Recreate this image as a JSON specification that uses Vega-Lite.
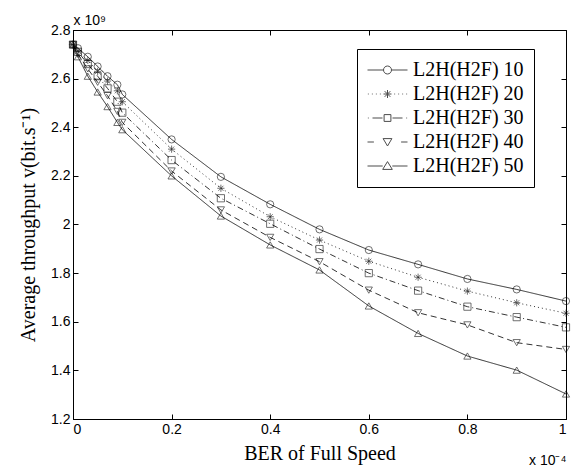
{
  "$schema": "https://vega.github.io/schema/vega-lite/v6.json",
  "width": 493,
  "height": 389,
  "autosize": {"type": "none"},
  "padding": {"left": 73, "top": 30, "right": 8, "bottom": 47},
  "background": "white",
  "config": {
    "view": {"stroke": "black", "strokeWidth": 1},
    "axis": {
      "domainColor": "black",
      "domainWidth": 1,
      "tickColor": "black",
      "tickSize": -5,
      "grid": false,
      "labelFont": "Liberation Sans",
      "labelFontSize": 14,
      "labelColor": "black",
      "titleFont": "Liberation Serif",
      "titleFontSize": 20,
      "titleFontWeight": "normal",
      "titleColor": "black"
    }
  },
  "data": {
    "values": [
      {"x": 0, "y": 2.74, "series": "L2H(H2F) 10"},
      {"x": 0.01, "y": 2.725, "series": "L2H(H2F) 10"},
      {"x": 0.03, "y": 2.69, "series": "L2H(H2F) 10"},
      {"x": 0.05, "y": 2.65, "series": "L2H(H2F) 10"},
      {"x": 0.07, "y": 2.61, "series": "L2H(H2F) 10"},
      {"x": 0.09, "y": 2.575, "series": "L2H(H2F) 10"},
      {"x": 0.1, "y": 2.535, "series": "L2H(H2F) 10"},
      {"x": 0.2, "y": 2.35, "series": "L2H(H2F) 10"},
      {"x": 0.3, "y": 2.196, "series": "L2H(H2F) 10"},
      {"x": 0.4, "y": 2.083, "series": "L2H(H2F) 10"},
      {"x": 0.5, "y": 1.98, "series": "L2H(H2F) 10"},
      {"x": 0.6, "y": 1.895, "series": "L2H(H2F) 10"},
      {"x": 0.7, "y": 1.836, "series": "L2H(H2F) 10"},
      {"x": 0.8, "y": 1.776, "series": "L2H(H2F) 10"},
      {"x": 0.9, "y": 1.733, "series": "L2H(H2F) 10"},
      {"x": 1.0, "y": 1.685, "series": "L2H(H2F) 10"},
      {"x": 0, "y": 2.74, "series": "L2H(H2F) 20"},
      {"x": 0.01, "y": 2.715, "series": "L2H(H2F) 20"},
      {"x": 0.03, "y": 2.675, "series": "L2H(H2F) 20"},
      {"x": 0.05, "y": 2.63, "series": "L2H(H2F) 20"},
      {"x": 0.07, "y": 2.59, "series": "L2H(H2F) 20"},
      {"x": 0.09, "y": 2.55, "series": "L2H(H2F) 20"},
      {"x": 0.1, "y": 2.505, "series": "L2H(H2F) 20"},
      {"x": 0.2, "y": 2.31, "series": "L2H(H2F) 20"},
      {"x": 0.3, "y": 2.149, "series": "L2H(H2F) 20"},
      {"x": 0.4, "y": 2.032, "series": "L2H(H2F) 20"},
      {"x": 0.5, "y": 1.936, "series": "L2H(H2F) 20"},
      {"x": 0.6, "y": 1.849, "series": "L2H(H2F) 20"},
      {"x": 0.7, "y": 1.783, "series": "L2H(H2F) 20"},
      {"x": 0.8, "y": 1.726, "series": "L2H(H2F) 20"},
      {"x": 0.9, "y": 1.678, "series": "L2H(H2F) 20"},
      {"x": 1.0, "y": 1.635, "series": "L2H(H2F) 20"},
      {"x": 0, "y": 2.74, "series": "L2H(H2F) 30"},
      {"x": 0.01, "y": 2.71, "series": "L2H(H2F) 30"},
      {"x": 0.03, "y": 2.66, "series": "L2H(H2F) 30"},
      {"x": 0.05, "y": 2.61, "series": "L2H(H2F) 30"},
      {"x": 0.07, "y": 2.56, "series": "L2H(H2F) 30"},
      {"x": 0.09, "y": 2.505, "series": "L2H(H2F) 30"},
      {"x": 0.1, "y": 2.46, "series": "L2H(H2F) 30"},
      {"x": 0.2, "y": 2.265, "series": "L2H(H2F) 30"},
      {"x": 0.3, "y": 2.108, "series": "L2H(H2F) 30"},
      {"x": 0.4, "y": 2.003, "series": "L2H(H2F) 30"},
      {"x": 0.5, "y": 1.899, "series": "L2H(H2F) 30"},
      {"x": 0.6, "y": 1.80, "series": "L2H(H2F) 30"},
      {"x": 0.7, "y": 1.728, "series": "L2H(H2F) 30"},
      {"x": 0.8, "y": 1.662, "series": "L2H(H2F) 30"},
      {"x": 0.9, "y": 1.619, "series": "L2H(H2F) 30"},
      {"x": 1.0, "y": 1.577, "series": "L2H(H2F) 30"},
      {"x": 0, "y": 2.74, "series": "L2H(H2F) 40"},
      {"x": 0.01, "y": 2.70, "series": "L2H(H2F) 40"},
      {"x": 0.03, "y": 2.64, "series": "L2H(H2F) 40"},
      {"x": 0.05, "y": 2.585, "series": "L2H(H2F) 40"},
      {"x": 0.07, "y": 2.53, "series": "L2H(H2F) 40"},
      {"x": 0.09, "y": 2.465, "series": "L2H(H2F) 40"},
      {"x": 0.1, "y": 2.42, "series": "L2H(H2F) 40"},
      {"x": 0.2, "y": 2.22, "series": "L2H(H2F) 40"},
      {"x": 0.3, "y": 2.06, "series": "L2H(H2F) 40"},
      {"x": 0.4, "y": 1.947, "series": "L2H(H2F) 40"},
      {"x": 0.5, "y": 1.847, "series": "L2H(H2F) 40"},
      {"x": 0.6, "y": 1.73, "series": "L2H(H2F) 40"},
      {"x": 0.7, "y": 1.637, "series": "L2H(H2F) 40"},
      {"x": 0.8, "y": 1.587, "series": "L2H(H2F) 40"},
      {"x": 0.9, "y": 1.514, "series": "L2H(H2F) 40"},
      {"x": 1.0, "y": 1.486, "series": "L2H(H2F) 40"},
      {"x": 0, "y": 2.74, "series": "L2H(H2F) 50"},
      {"x": 0.01, "y": 2.69, "series": "L2H(H2F) 50"},
      {"x": 0.03, "y": 2.61, "series": "L2H(H2F) 50"},
      {"x": 0.05, "y": 2.545, "series": "L2H(H2F) 50"},
      {"x": 0.07, "y": 2.485, "series": "L2H(H2F) 50"},
      {"x": 0.09, "y": 2.42, "series": "L2H(H2F) 50"},
      {"x": 0.1, "y": 2.39, "series": "L2H(H2F) 50"},
      {"x": 0.2, "y": 2.20, "series": "L2H(H2F) 50"},
      {"x": 0.3, "y": 2.035, "series": "L2H(H2F) 50"},
      {"x": 0.4, "y": 1.916, "series": "L2H(H2F) 50"},
      {"x": 0.5, "y": 1.813, "series": "L2H(H2F) 50"},
      {"x": 0.6, "y": 1.665, "series": "L2H(H2F) 50"},
      {"x": 0.7, "y": 1.552, "series": "L2H(H2F) 50"},
      {"x": 0.8, "y": 1.459, "series": "L2H(H2F) 50"},
      {"x": 0.9, "y": 1.401, "series": "L2H(H2F) 50"},
      {"x": 1.0, "y": 1.303, "series": "L2H(H2F) 50"}
    ]
  },
  "layer": [
    {
      "mark": {"type": "line", "color": "black", "strokeWidth": 0.8},
      "encoding": {
        "x": {
          "field": "x", "type": "quantitative",
          "scale": {"domain": [0, 1], "nice": false, "zero": false},
          "axis": {"orient": "bottom", "values": [0, 0.2, 0.4, 0.6, 0.8, 1], "format": ".1~f", "title": "BER of Full Speed", "labelPadding": 8, "titlePadding": 7}
        },
        "y": {
          "field": "y", "type": "quantitative",
          "scale": {"domain": [1.2, 2.8], "nice": false, "zero": false},
          "axis": {"orient": "left", "values": [1.2, 1.4, 1.6, 1.8, 2, 2.2, 2.4, 2.6, 2.8], "format": ".1~f", "title": "Average throughput  v(bit.s⁻¹)", "labelPadding": 8, "titlePadding": 12}
        },
        "strokeDash": {
          "field": "series", "type": "nominal",
          "scale": {
            "domain": ["L2H(H2F) 10", "L2H(H2F) 20", "L2H(H2F) 30", "L2H(H2F) 40", "L2H(H2F) 50"],
            "range": [[1, 0], [1, 3], [6, 3, 1, 3], [6, 4], [1, 0]]
          },
          "legend": null
        }
      }
    },
    {
      "mark": {"type": "point", "color": "black", "filled": false, "size": 52, "strokeWidth": 0.8},
      "encoding": {
        "x": {
          "field": "x", "type": "quantitative",
          "axis": {"orient": "top", "values": [0, 0.2, 0.4, 0.6, 0.8, 1], "labels": false, "domain": false, "title": "x 10⁹", "titleFont": "Liberation Sans", "titleFontSize": 14, "titleX": 0, "titleY": -6, "titleAlign": "left", "titleAngle": 0, "titleBaseline": "alphabetic"}
        },
        "y": {
          "field": "y", "type": "quantitative",
          "axis": {"orient": "right", "values": [1.2, 1.4, 1.6, 1.8, 2, 2.2, 2.4, 2.6, 2.8], "labels": false, "domain": false, "title": "x 10⁻⁴", "titleFont": "Liberation Sans", "titleFontSize": 14, "titleX": 0, "titleY": 434, "titleAlign": "right", "titleAngle": 0, "titleBaseline": "alphabetic"}
        },
        "shape": {
          "field": "series", "type": "nominal",
          "scale": {
            "domain": ["L2H(H2F) 10", "L2H(H2F) 20", "L2H(H2F) 30", "L2H(H2F) 40", "L2H(H2F) 50"],
            "range": ["circle", "M-1,0L1,0M0,-1L0,1M-0.7,-0.7L0.7,0.7M-0.7,0.7L0.7,-0.7", "square", "triangle-down", "triangle-up"]
          },
          "legend": null
        }
      }
    },
    {
      "transform": [{"filter": "datum.x > 5"}],
      "mark": {"type": "point", "color": "black", "filled": false, "strokeWidth": 1},
      "encoding": {
        "x": {"field": "x", "type": "quantitative", "axis": null},
        "y": {"field": "y", "type": "quantitative", "axis": null},
        "shape": {
          "field": "series", "type": "nominal",
          "scale": {
            "domain": ["L2H(H2F) 10", "L2H(H2F) 20", "L2H(H2F) 30", "L2H(H2F) 40", "L2H(H2F) 50"],
            "range": [
              "M-1,0L-0.2,0M0.2,0L1,0M0.2,0A0.2,0.2,0,1,1,-0.2,0A0.2,0.2,0,1,1,0.2,0",
              "M-0.98,0L-0.94,0M-0.78,0L-0.74,0M-0.58,0L-0.54,0M-0.38,0L-0.34,0M0.34,0L0.38,0M0.54,0L0.58,0M0.74,0L0.78,0M0.94,0L0.98,0M-0.2,0L0.2,0M0,-0.2L0,0.2M-0.14,-0.14L0.14,0.14M-0.14,0.14L0.14,-0.14",
              "M-0.98,0L-0.94,0M-0.75,0L-0.25,0M0.25,0L0.75,0M0.94,0L0.98,0M-0.17,-0.17L0.17,-0.17L0.17,0.17L-0.17,0.17Z",
              "M-1,0L-0.68,0M0.68,0L1,0M-0.22,-0.17L0.22,-0.17L0,0.2Z",
              "M-1,0L-0.24,0M0.24,0L1,0M-0.24,0.17L0.24,0.17L0,-0.22Z"
            ]
          },
          "legend": {
            "orient": "none", "legendX": 284, "legendY": 19,
            "title": null,
            "symbolSize": 1600, "clipHeight": 22, "rowPadding": 2,
            "symbolStrokeColor": "black", "symbolStrokeWidth": 1, "symbolFillColor": "transparent",
            "labelFont": "Liberation Serif", "labelFontSize": 20, "labelColor": "black", "labelOffset": 5,
            "strokeColor": "black", "fillColor": "white", "padding": 10
          }
        }
      }
    }
  ],
  "resolve": {
    "scale": {"shape": "independent"},
    "axis": {"x": "independent", "y": "independent"},
    "legend": {"shape": "independent"}
  }
}
